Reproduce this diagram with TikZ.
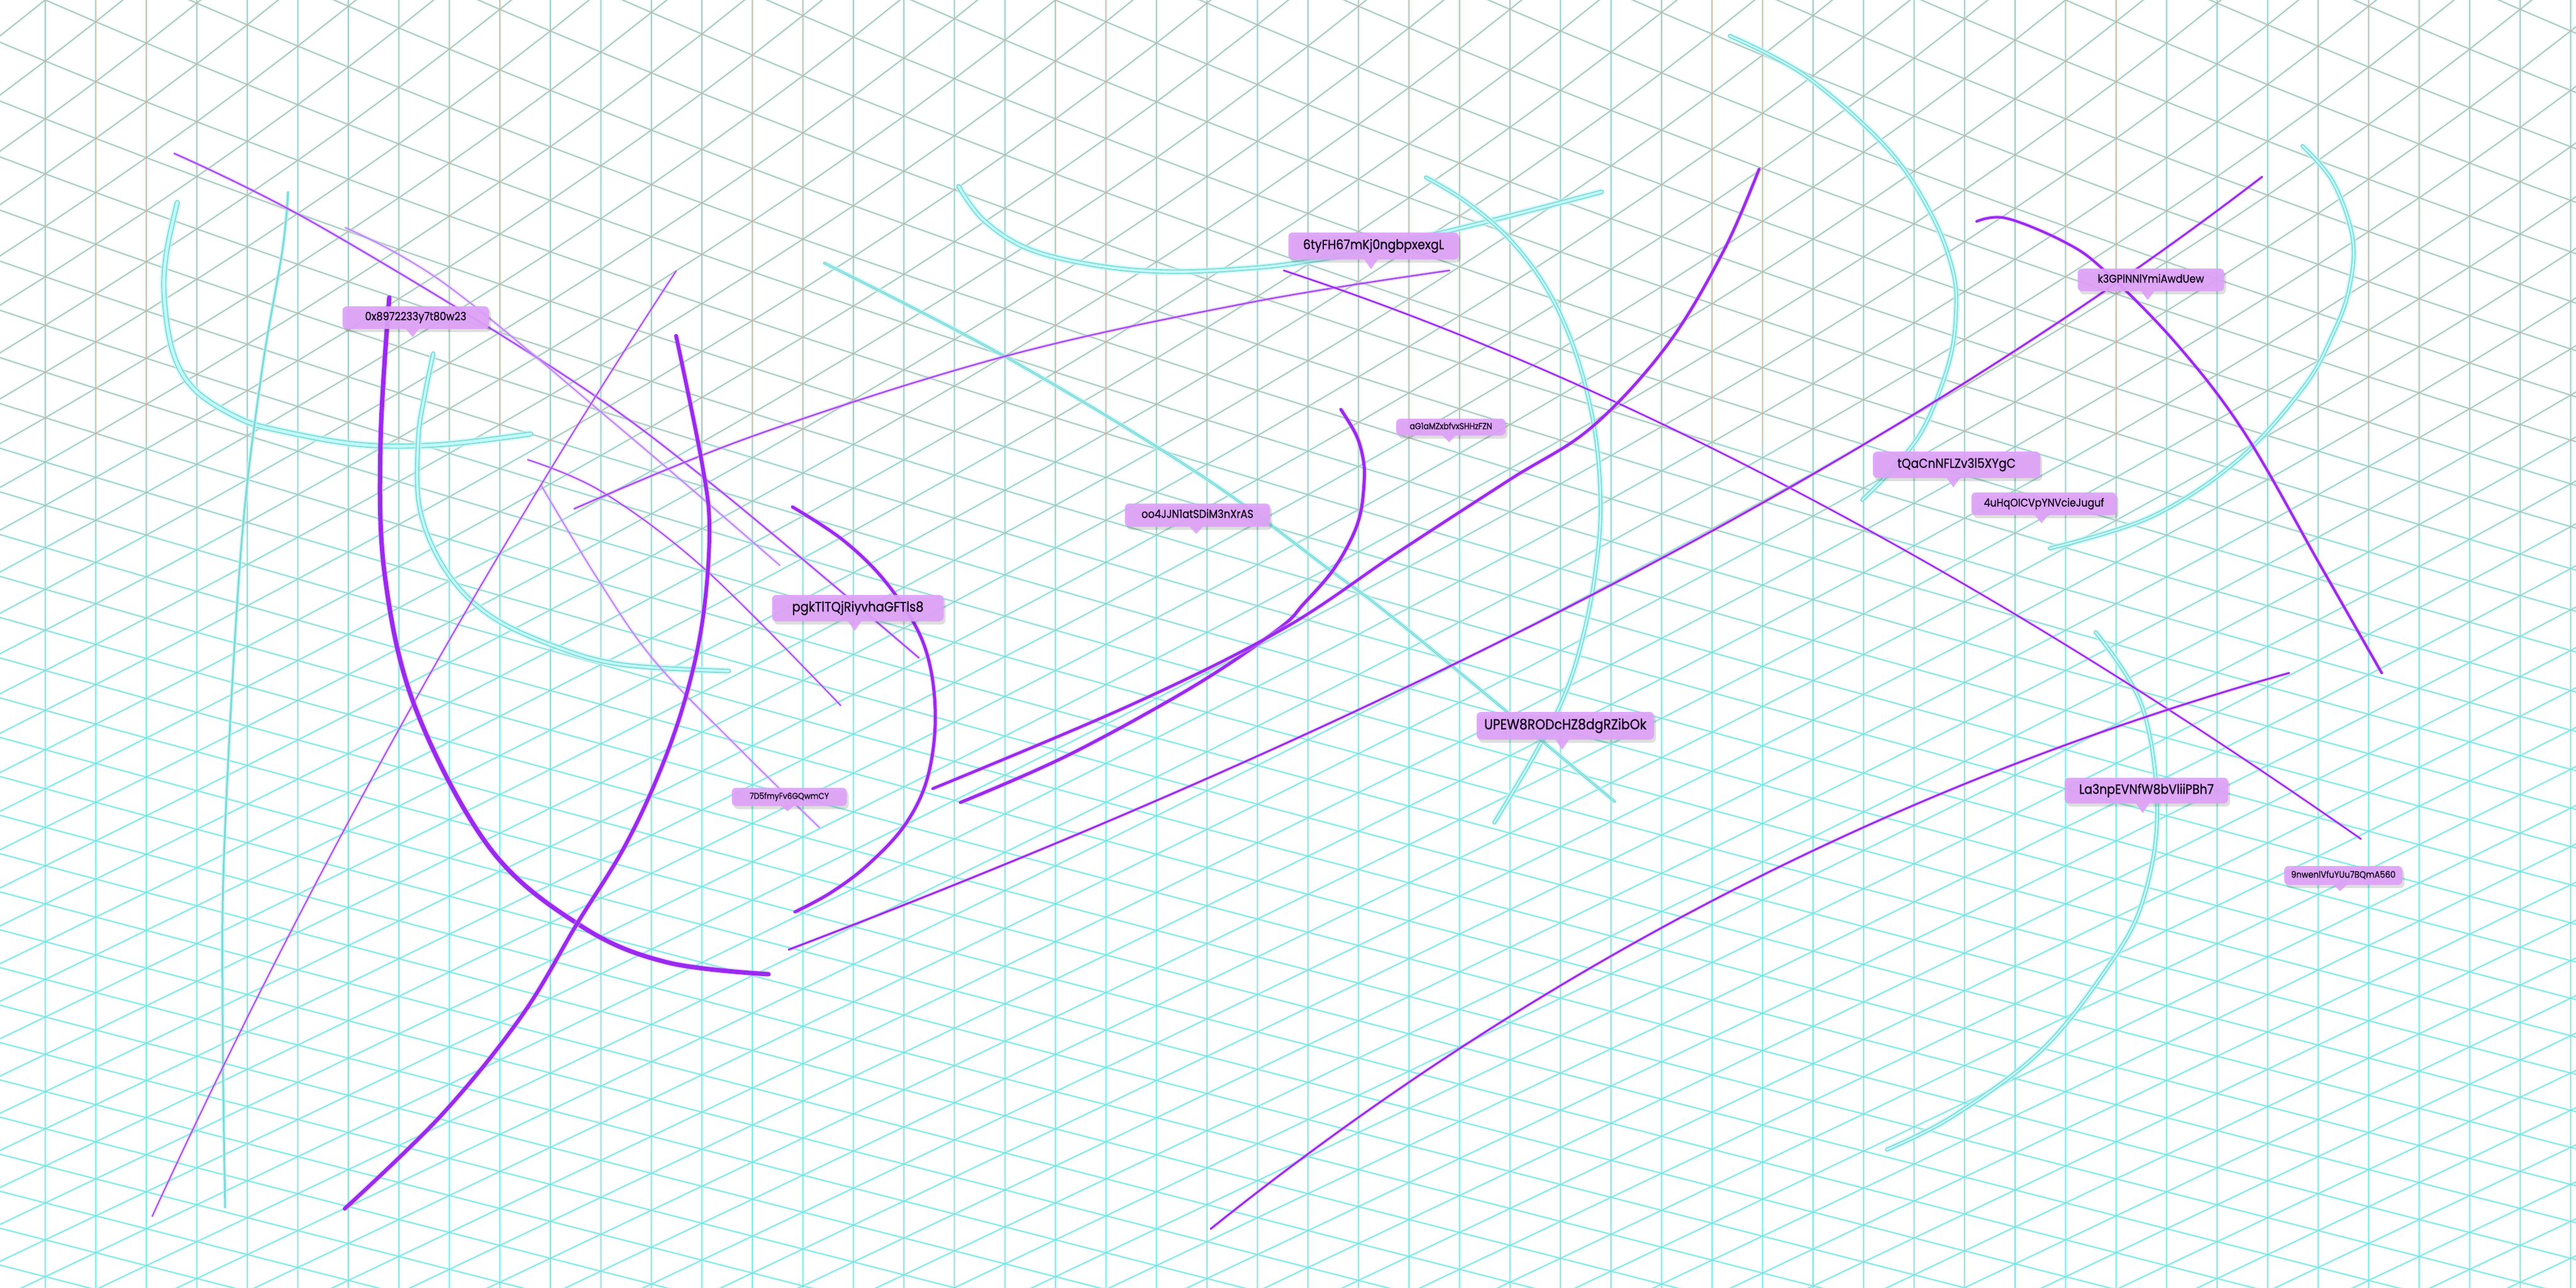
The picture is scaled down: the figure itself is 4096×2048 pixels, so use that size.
\documentclass[tikz,border=0pt]{standalone}
\usepackage{fontspec}
\usepackage{graphicx}
\newfontfamily\lblfont{Poppins}[FakeBold=1.2]
\usetikzlibrary{calc}
\definecolor{purp}{HTML}{9A2AF0}
\definecolor{purpthin}{HTML}{A64FF3}
\definecolor{purplite}{HTML}{B98AF5}
\definecolor{tubeedge}{HTML}{7AD7D5}
\definecolor{tubein}{HTML}{BFF9F8}
\definecolor{cyanthin}{HTML}{80D9D7}
\definecolor{lblfill}{HTML}{DEA1F8}
\definecolor{lbltext}{HTML}{140C1C}
\definecolor{gcore}{HTML}{74E2DF}
\definecolor{gglow}{HTML}{C2F6F5}
\definecolor{gsalmon}{HTML}{E4A28E}
\pgfmathdeclarefunction{phi}{1}{%
  \pgfmathparse{58*(#1)+294*(1-exp(-max(#1,0)/7))+42*min(#1,0)}%
}
\newcommand\gridall{%
  \foreach \kk in {0,...,50}{({72+80.31*\kk},-10) -- ({72+80.31*\kk},2058)}
  \foreach \jj in {-18,...,31}{plot[variable=\xx,domain=-1:51,samples=53] ({72+80.31*\xx},{phi(\jj+0.35*\xx)})}
  \foreach \dd in {-1,...,64}{plot[variable=\xx,domain=-1:51,samples=53] ({72+80.31*\xx},{phi(\dd-0.65*\xx)})}
}
\tikzset{
  gridglow/.style={draw=gglow, line width=4.5pt, draw opacity=0.55, line join=round},
  gridcore/.style={draw=gcore, line width=1.3pt, line join=round},
  gridsalm/.style={draw=gsalmon, line width=1.1pt, line join=round},
  tube/.style={draw=tubeedge, line width=#1, line cap=round,
    preaction={draw=gglow, line width=#1+5pt, draw opacity=0.6},
    postaction={draw=tubein, line width=#1-3.2pt}},
  cyline/.style={draw=cyanthin, line width=#1, line cap=round,
    preaction={draw=gglow, line width=#1+4pt, draw opacity=0.6}},
  pline/.style={draw=purp, line width=#1, line cap=round,
    preaction={draw=purp!35, line width=#1+4pt, draw opacity=0.35}},
  lblbox/.style={fill=lblfill, fill opacity=0.92, text opacity=1, text=lbltext,
    rounded corners=7pt, inner sep=0pt, font=\lblfont},
}
% name, cx, cy, w, h, tipx, tipy, textwidth, text
\newcommand\tagbox[9]{%
  \fill[black, opacity=0.13, rounded corners=7pt] ({#2-#4/2+3},{#3-#5/2+5}) rectangle ({#2+#4/2+3},{#3+#5/2+5});
  \node[lblbox, minimum width=#4pt, minimum height=#5pt] (#1) at (#2,#3) {\scalebox{1}[1.12]{\resizebox{#8pt}{!}{\vphantom{Ag}#9}}};
  \fill[lblfill, fill opacity=0.92] ({#6-11},{#3+#5/2-0.5}) -- (#6,#7) -- ({#6+11},{#3+#5/2-0.5}) -- cycle;
}
\begin{document}
\begin{tikzpicture}[x=1pt,y=-1pt]
\useasboundingbox (0,0) rectangle (4096,2048);
\fill[white] (0,0) rectangle (4096,2048);
% ---------- background mesh ----------
\begin{scope}
  \clip (0,0) rectangle (4096,2048);
  \draw[gridglow] \gridall;
  \draw[gridcore] \gridall;
  \begin{scope}\clip (-10,-10) rectangle (4106,700); \draw[gridsalm, draw opacity=0.75] \gridall; \end{scope}
  \begin{scope}\clip (-10,700) rectangle (4106,850); \draw[gridsalm, draw opacity=0.5] \gridall; \end{scope}
  \begin{scope}\clip (-10,850) rectangle (4106,1000); \draw[gridsalm, draw opacity=0.28] \gridall; \end{scope}
  \begin{scope}\clip (-10,1000) rectangle (4106,1150); \draw[gridsalm, draw opacity=0.11] \gridall; \end{scope}
\end{scope}
% ---------- cyan tubes and lines ----------
\draw[tube=8pt] plot[smooth,tension=0.6] coordinates {(282,322) (265,400) (261,470) (275,560) (310,620) (380,665) (446,685) (574,707) (700,707) (844,690)};
\draw[tube=7pt] plot[smooth,tension=0.6] coordinates {(689,562) (676,625) (665,699) (668,811) (710,909) (781,980) (886,1029) (991,1057) (1159,1067)};
\draw[tube=7pt] plot[smooth,tension=0.6] coordinates {(1524,296) (1564,350) (1636,396) (1743,422) (1859,432) (1993,426) (2082,415) (2171,398) (2350,356) (2547,305)};
\draw[tube=6pt] plot[smooth,tension=0.6] coordinates {(2267,282) (2330,320) (2400,380) (2460,460) (2505,560) (2535,680) (2545,800) (2538,900) (2520,1000) (2490,1100) (2440,1200) (2376,1308)};
\draw[tube=6pt] plot[smooth,tension=0.6] coordinates {(2750,57) (2870,120) (3000,235) (3070,339) (3105,430) (3110,500) (3098,580) (3059,680) (3010,745) (2961,795)};
\draw[tube=6pt] plot[smooth,tension=0.6] coordinates {(3661,232) (3710,290) (3741,380) (3735,460) (3710,530) (3664,614) (3559,731) (3420,822) (3259,872)};
\draw[tube=6pt] plot[smooth,tension=0.6] coordinates {(3332,1005) (3406,1123) (3430,1292) (3406,1436) (3350,1540) (3245,1671) (3105,1775) (3000,1828)};
\draw[tube=3.8pt] plot[smooth,tension=0.6] coordinates {(1310,418) (1600,568) (1904,752) (2113,905) (2237,1000) (2568,1275)};
\draw[cyline=3pt] plot[smooth,tension=0.6] coordinates {(458,305) (449,398) (415,600) (383,877) (357,1339) (354,1616) (358,1920)};
% ---------- purple lines ----------
\draw[pline=2.5pt, draw=purpthin] plot[smooth,tension=0.6] coordinates {(277,244) (500,355) (893,594) (1131,769) (1461,1046)};
\draw[pline=2pt, draw=purplite] plot[smooth,tension=0.6] coordinates {(549,362) (710,453) (991,685) (1240,899)};
\draw[pline=2pt, draw=purpthin] plot[smooth,tension=0.6] coordinates {(839,731) (959,783) (1123,907) (1337,1122)};
\draw[pline=2pt, draw=purplite] plot[smooth,tension=0.6] coordinates {(860,771) (950,920) (1040,1050) (1170,1185) (1303,1316)};
\draw[pline=2pt, draw=purpthin] (242,1934) .. controls (482,1412) and (760,911) .. (1075,431);
\draw[pline=2.5pt, draw=purpthin] plot[smooth,tension=0.6] coordinates {(913,809) (1201,692) (1600,566) (1993,480) (2305,430)};
\draw[pline=2.5pt] (2041,430) .. controls (2573,605) and (3144,907) .. (3754,1334);
\draw[pline=3pt] (1254,1510) .. controls (2237,1136) and (3018,726) .. (3597,281);
\draw[pline=3pt] (1925,1954) .. controls (2443,1539) and (3015,1245) .. (3640,1070);
\draw[pline=4pt] plot[smooth,tension=0.6] coordinates {(3143,352) (3190,347) (3283,385) (3346,430) (3461,547) (3570,690) (3690,900) (3787,1070)};
\draw[pline=7pt] plot[smooth,tension=0.6] coordinates {(619,473) (605,706) (612,916) (661,1127) (780,1350) (925,1473) (1060,1530) (1222,1549)};
\draw[pline=6pt] plot[smooth,tension=0.6] coordinates {(1075,534) (1117,741) (1128,846) (1117,987) (1089,1113) (1047,1232) (991,1350) (918,1468) (829,1616) (702,1773) (548,1922)};
\draw[pline=5pt] plot[smooth,tension=0.6] coordinates {(1260,806) (1342,860) (1412,930) (1468,1022) (1487,1127) (1476,1232) (1440,1310) (1380,1375) (1320,1420) (1264,1450)};
\draw[pline=5pt] plot[smooth,tension=0.6] coordinates {(2132,651) (2157,693) (2168,733) (2169,767) (2163,817) (2147,860) (2117,910) (2073,960) (2033,1000) (1900,1090) (1700,1200) (1527,1276)};
\draw[pline=4.5pt] plot[smooth,tension=0.6] coordinates {(2797,269) (2740,400) (2650,550) (2530,680) (2400,763) (2220,880) (2040,1000) (1800,1120) (1483,1254)};
% ---------- labels ----------
\tagbox{l1}{661}{505}{233}{36}{656}{536}{161}{0x8972233y7t80w23}
\tagbox{l2}{2184}{391}{271}{43}{2180}{428}{224}{6tyFH67mKj0ngbpxexgL}
\tagbox{l3}{2307}{679}{174}{27}{2304}{703}{131}{aG1aMZxbfvxSHHzFZN}
\tagbox{l4}{1904}{819}{231}{37}{1902}{849}{178}{oo4JJN1atSDiM3nXrAS}
\tagbox{l5}{1364}{967}{273}{42}{1359}{1003}{209}{pgkTlTQjRiyvhaGFTls8}
\tagbox{l6}{1255}{1267}{183}{29}{1252}{1290}{126}{7D5fmyFv6GQwmCY}
\tagbox{l7}{3420}{445}{233}{36}{3415}{477}{169}{k3GPlNNlYmiAwdUew}
\tagbox{l8}{3111}{739}{266}{42}{3106}{775}{188}{tQaCnNFLZv3l5XYgC}
\tagbox{l9}{3250}{801}{231}{36}{3246}{832}{191}{4uHqOICVpYNVcieJuguf}
\tagbox{l10}{2489}{1154}{282}{44}{2484}{1192}{258}{UPEW8RODcHZ8dgRZibOk}
\tagbox{l11}{3413}{1257}{260}{41}{3407}{1293}{214}{La3npEVNfW8bVliiPBh7}
\tagbox{l12}{3726}{1392}{188}{30}{3721}{1417}{166}{9nwenlVfuYUu7BQmA560}
\end{tikzpicture}
\end{document}
